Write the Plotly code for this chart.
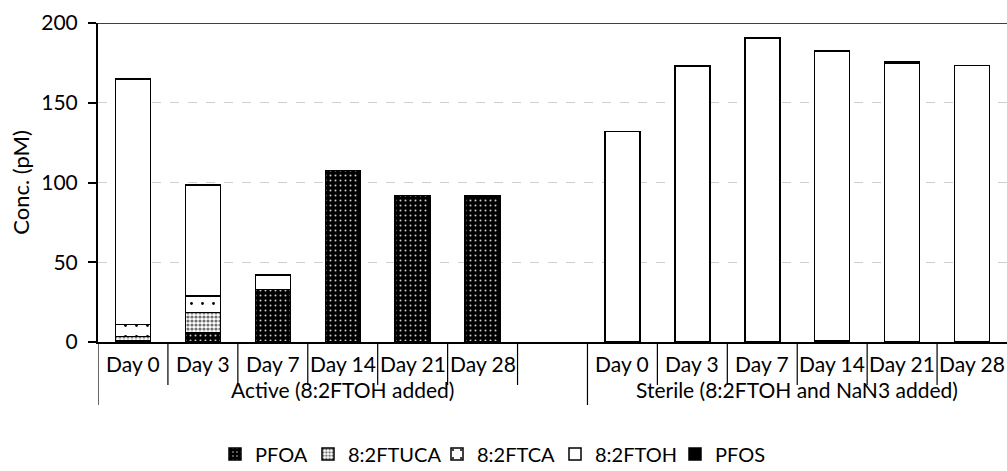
import plotly.graph_objects as go

days = ["Day 0", "Day 3", "Day 7", "Day 14", "Day 21", "Day 28"]
groups = ["Active (8:2FTOH added)", "Sterile (8:2FTOH and NaN3 added)"]
series = ["PFOA", "8:2FTUCA", "8:2FTCA", "8:2FTOH", "PFOS"]

active_pfoa = [0.5, 6, 33, 107.5, 92, 91.5]
active_ftuca = [3, 12.5, 0, 0, 0, 0]
active_ftca = [7.5, 10.5, 0, 0, 0, 0]
active_ftoh = [154, 69.5, 9, 0, 0, 0]
active_pfos = [0, 0, 0, 0, 0, 0]

sterile_pfoa = [0, 0, 0, 1, 0, 0]
sterile_ftuca = [0, 0, 0, 0, 0, 0]
sterile_ftca = [0, 0, 0, 0, 0, 0]
sterile_ftoh = [132, 173, 190.5, 181.5, 175, 173.5]
sterile_pfos = [0, 0, 0, 0, 0.7, 0]


def nz(lst):
    return [v if v else None for v in lst]


values = {
    "PFOA": nz(active_pfoa + [0] + sterile_pfoa),
    "8:2FTUCA": nz(active_ftuca + [0] + sterile_ftuca),
    "8:2FTCA": nz(active_ftca + [0] + sterile_ftca),
    "8:2FTOH": nz(active_ftoh + [0] + sterile_ftoh),
    "PFOS": nz(active_pfos + [0] + sterile_pfos),
}
xpos = list(range(13))

styles = {
    "PFOA": dict(shape=".", fgcolor="#d0d0d0", bgcolor="black", size=5, solidity=0.12),
    "8:2FTUCA": dict(shape=".", fgcolor="#707070", bgcolor="white", size=4, solidity=0.5),
    "8:2FTCA": dict(shape=".", fgcolor="black", bgcolor="white", size=11, solidity=0.05),
    "8:2FTOH": None,
    "PFOS": None,
}
colors = {"PFOA": "black", "8:2FTUCA": "white", "8:2FTCA": "white", "8:2FTOH": "white", "PFOS": "black"}

# legend text start (px) for each item, taken from the reference layout
legend_text_px = [255, 348, 477, 595, 715]
legend_names = ["legend", "legend2", "legend3", "legend4", "legend5"]

L, R, T, B = 98, 0, 23, 129
W, H = 1007, 471
pw = W - L - R
ph = H - T - B

fs = 21
font = "Lato, 'Open Sans', sans-serif"

fig = go.Figure()
for s, lg in zip(series, legend_names):
    marker = dict(color=colors[s], line=dict(color="black", width=1.5))
    if styles[s]:
        marker["pattern"] = dict(fillmode="replace", **styles[s])
    fig.add_trace(go.Bar(x=xpos, y=values[s], name=s, marker=marker, width=0.5, legend=lg))

shapes = []
annotations = []
shapes.append(dict(type="line", xref="paper", yref="y", x0=0, x1=1, y0=200, y1=200,
                   line=dict(color="black", width=1.5)))
short_y = -(385 - 342) / ph
long_y = -(405 - 342) / ph
for i in range(6):
    shapes.append(dict(type="line", xref="x", yref="paper", x0=i + 0.5, x1=i + 0.5, y0=0, y1=short_y,
                       line=dict(color="black", width=1.2)))
for i in range(5):
    shapes.append(dict(type="line", xref="x", yref="paper", x0=7 + i + 0.5, x1=7 + i + 0.5, y0=0, y1=short_y,
                       line=dict(color="black", width=1.2)))
for xv in [-0.5, 6.5]:
    shapes.append(dict(type="line", xref="x", yref="paper", x0=xv, x1=xv, y0=0, y1=long_y,
                       line=dict(color="black", width=1.2)))

lab_y = -(363 - 342) / ph
grp_y = -(390 - 342) / ph
for i, d in enumerate(days):
    for off in (0, 7):
        annotations.append(dict(x=i + off, y=lab_y, xref="x", yref="paper", text=d, showarrow=False,
                                font=dict(size=fs, color="black", family=font), yanchor="middle"))
annotations.append(dict(x=3, y=grp_y, xref="x", yref="paper", text=groups[0], showarrow=False,
                        font=dict(size=fs, color="black", family=font), yanchor="middle"))
annotations.append(dict(x=9.5, y=grp_y, xref="x", yref="paper", text=groups[1], showarrow=False,
                        font=dict(size=fs, color="black", family=font), yanchor="middle"))

leg_y = -(454 - 342) / ph
legend_layout = {}
for lg, tx in zip(legend_names, legend_text_px):
    legend_layout[lg] = dict(x=(tx - 40 - L) / pw, xanchor="left", y=leg_y, yanchor="middle",
                             orientation="h", font=dict(size=20, family=font), itemwidth=30,
                             bgcolor="rgba(0,0,0,0)", borderwidth=0)

fig.update_layout(
    barmode="stack",
    width=W, height=H,
    margin=dict(l=L, r=R, t=T, b=B, pad=0, autoexpand=False),
    paper_bgcolor="white", plot_bgcolor="white",
    font=dict(family=font, size=fs, color="black"),
    showlegend=True,
    xaxis=dict(range=[-0.5, 12.5], showticklabels=False, ticks="", showgrid=False, zeroline=False,
               showline=True, linecolor="black", linewidth=2, fixedrange=True, automargin=False),
    yaxis=dict(range=[0, 200], tickvals=[0, 50, 100, 150, 200], showgrid=True, gridcolor="#d0d0d0",
               griddash="dash", gridwidth=1, zeroline=False, showline=True, linecolor="black", linewidth=2,
               ticks="outside", ticklen=8, tickwidth=1.5, tickcolor="black", automargin=False,
               ticklabelstandoff=6,
               tickfont=dict(size=fs, family=font),
               title=dict(text="Conc. (pM)", font=dict(size=22, family=font), standoff=6)),
    shapes=shapes,
    annotations=annotations,
    **legend_layout,
)
fig.write_html("out.html", config={"displayModeBar": False},
               post_script="document.body.style.margin='0';document.body.style.overflow='hidden';")
